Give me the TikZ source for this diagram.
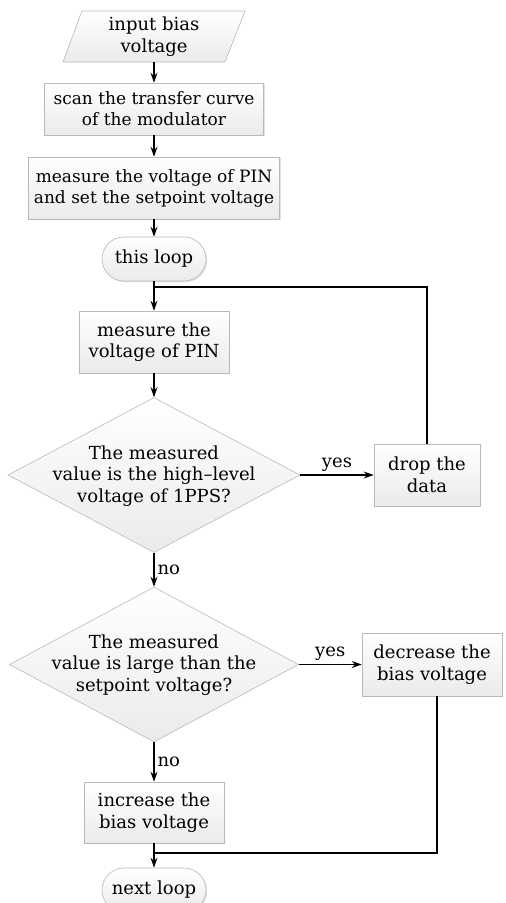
\documentclass[tikz,border=0pt]{standalone}
\usepackage{fontspec}
\setmainfont{DejaVu Serif}
\usetikzlibrary{shapes.geometric,arrows.meta,shadows,calc}
\begin{document}
\begin{tikzpicture}[x=1pt,y=-1pt,
  every node/.style={font=\fontsize{18}{21.5}\selectfont, align=center},
  small/.style={font=\fontsize{17}{21}\selectfont},
  shapefill/.style={draw=gray!55, line width=0.6pt, top color=white, bottom color=gray!16},
  fbox/.style={shapefill, rectangle, inner sep=0pt,
    drop shadow={shadow xshift=1.2pt,shadow yshift=-1.2pt,opacity=0.25}},
  term/.style={fbox, rounded corners=22pt},
  dia/.style={shapefill, diamond, inner sep=0pt},
  ln/.style={line width=1.2pt, black},
  arr/.style={ln, -{Stealth[length=10pt,width=7pt,inset=3.5pt]}},
  lab/.style={inner sep=3pt}
]
\useasboundingbox (0,0) rectangle (506,903);
% input parallelogram
\path[shapefill] (82,11) -- (245,11) -- (225,62) -- (63,62) -- cycle;
\node[minimum height=51pt, inner sep=0pt] (in) at (154,36.5) {input bias\\voltage};
\node[fbox, small, minimum width=219pt, minimum height=52pt] (b2) at (154,109) {scan the transfer curve\\of the modulator};
\node[fbox, small, minimum width=251pt, minimum height=62pt] (b3) at (154,188) {measure the voltage of PIN\\and set the setpoint voltage};
\node[term, minimum width=104pt, minimum height=44pt] (tl) at (154,259) {this loop};
\node[fbox, minimum width=150pt, minimum height=62pt] (b4) at (154,342) {measure the\\voltage of PIN};
\node[dia, aspect=1.88, minimum width=292pt, minimum height=155pt] (d1) at (154,475) {};
\node (d1t) at (154,476) {The measured\\value is the high--level\\voltage of 1PPS?};
\node[fbox, minimum width=106pt, minimum height=62pt] (drop) at (427,475) {drop the\\data};
\node[dia, aspect=1.86, minimum width=289pt, minimum height=155pt] (d2) at (154,664.5) {};
\node (d2t) at (154,665) {The measured\\value is large than the\\setpoint voltage?};
\node[fbox, minimum width=140pt, minimum height=63pt] (dec) at (432,664.5) {decrease the\\bias voltage};
\node[fbox, minimum width=140pt, minimum height=61pt] (inc) at (154,812.5) {increase the\\bias voltage};
\node[term, minimum width=104pt, minimum height=44pt] (nl) at (154,890) {next loop};
\coordinate (m1) at (154,287);
\coordinate (m2) at (154,853);
\coordinate (dd) at (437,696);
% connectors
\draw[arr] (in) -- (b2);
\draw[arr] (b2) -- (b3);
\draw[arr] (b3) -- (tl);
\draw[arr] (tl) -- (b4);
\draw[ln] (drop.north) |- (m1);
\draw[arr] (b4) -- (d1);
\draw[arr] (d1) -- node[lab, above]{yes} (drop);
\draw[arr] (d1) -- node[lab, right]{no} (d2);
\draw[arr] (d2) -- node[lab, above]{yes} (dec);
\draw[arr] (d2) -- node[lab, right]{no} (inc);
\draw[arr] (inc) -- (nl);
\draw[ln] (dd) |- (m2);
\end{tikzpicture}
\end{document}
